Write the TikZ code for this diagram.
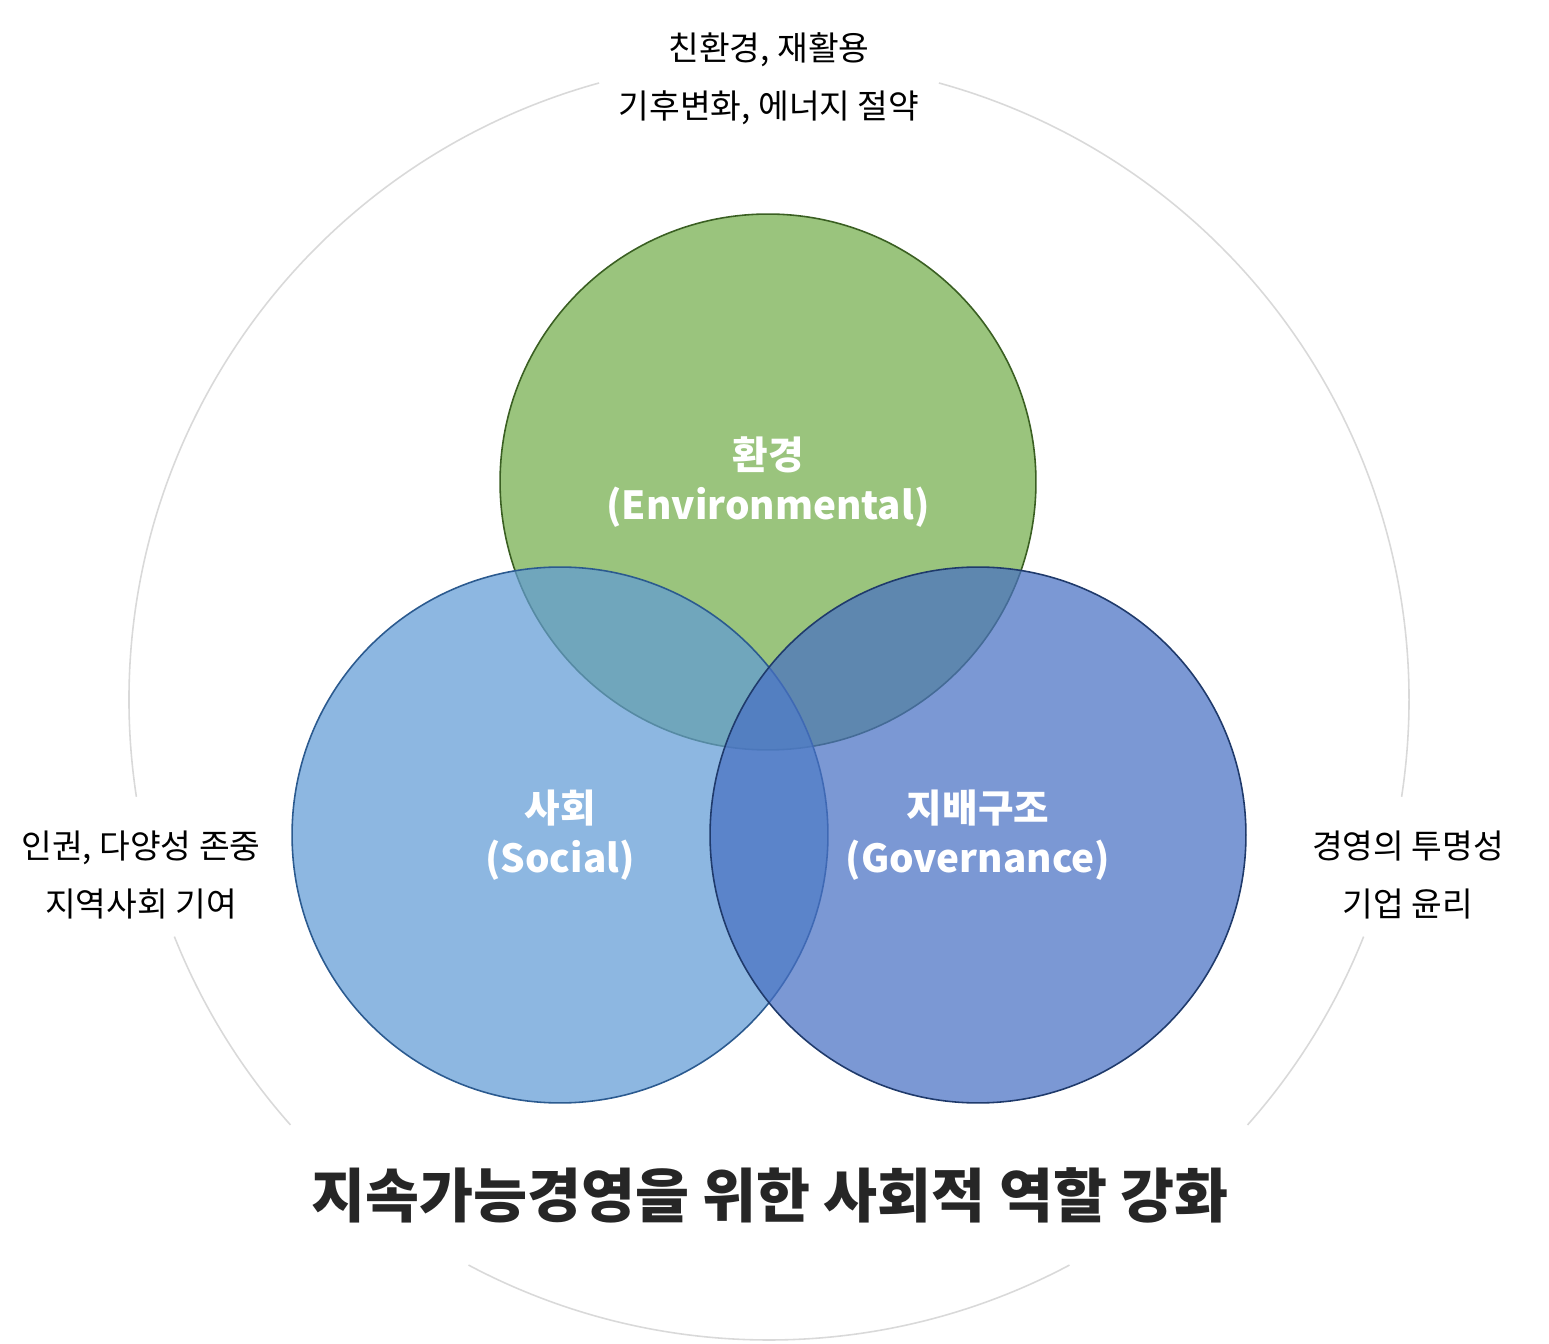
\documentclass[tikz,border=0pt]{standalone}
\usepackage{fontspec}
\setmainfont{Noto Sans CJK KR}
\usepackage{xcolor}
\definecolor{esgEnv}{HTML}{9AC47D}
\definecolor{esgEnvLine}{HTML}{3A5F22}
\definecolor{esgSoc}{HTML}{619BD5}
\definecolor{esgSocLine}{HTML}{2B5A8F}
\definecolor{esgGov}{HTML}{4870C3}
\definecolor{esgGovLine}{HTML}{1F3A6B}
\definecolor{ringGray}{HTML}{D9D9D9}
\definecolor{titleDark}{HTML}{262626}

\begin{document}
\begin{tikzpicture}[x=0.02cm, y=0.02cm]
  \useasboundingbox (0,0) rectangle (1549,1343);
  % outer ring, broken where the texts sit
  \foreach \a/\b in {105.4/188.7, 201.7/221.6, 242/298, 318.4/338.3, 351.3/434.6}
    \draw[ringGray, line width=0.9pt] (769,643) ++(\a:640) arc[start angle=\a, end angle=\b, radius=640];
  \node[circle, draw=esgEnvLine, line width=0.9pt, minimum size=10.72cm, fill=esgEnv, text=white, align=center, font=\fontsize{22}{28.5}\selectfont\bfseries] (env) at (768,861) {환경\\(Environmental)};
  \node[circle, draw=esgSocLine, line width=0.9pt, minimum size=10.72cm, fill=esgSoc, fill opacity=0.72, text opacity=1, text=white, align=center, font=\fontsize{22}{28.5}\selectfont\bfseries] (soc) at (560,508) {사회\\(Social)};
  \node[circle, draw=esgGovLine, line width=0.9pt, minimum size=10.72cm, fill=esgGov, fill opacity=0.72, text opacity=1, text=white, align=center, font=\fontsize{22}{28.5}\selectfont\bfseries] (gov) at (978,508) {지배구조\\(Governance)};
  \node[align=center, font=\fontsize{19}{33}\selectfont] (envnote) at (769,1264) {친환경, 재활용\\기후변화, 에너지 절약};
  \node[align=center, font=\fontsize{19}{33}\selectfont] (socnote) at (141,468) {인권, 다양성 존중\\지역사회 기여};
  \node[align=center, font=\fontsize{19}{33}\selectfont] (govnote) at (1408,468) {경영의 투명성\\기업 윤리};
  \node[text=titleDark, font=\fontsize{33.4}{40}\selectfont\bfseries] (title) at (770,148) {지속가능경영을 위한 사회적 역할 강화};
\end{tikzpicture}
\end{document}
